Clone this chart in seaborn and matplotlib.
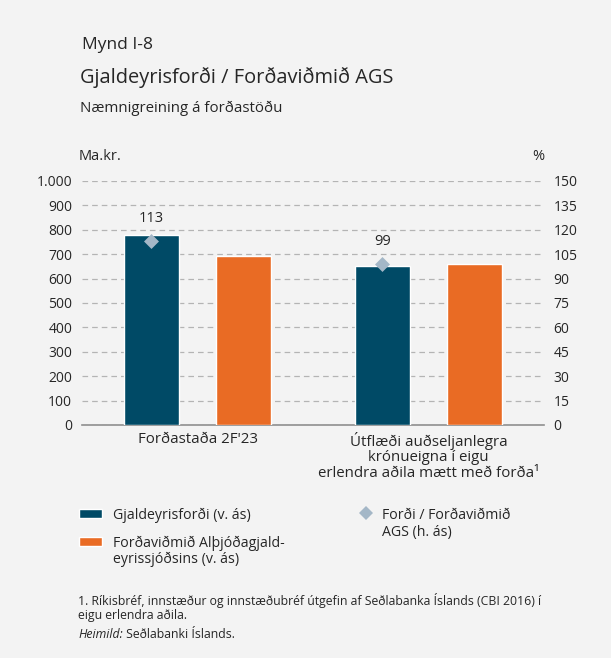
import matplotlib.pyplot as plt
import matplotlib.patches as mpatches
from matplotlib.lines import Line2D
from matplotlib.ticker import FuncFormatter
import pandas as pd
import seaborn as sns

# Gögn
categories = [
    "Forðastaða 2F'23",
    "Útflæði auðseljanlegra\nkrónueigna í eigu\nerlendra aðila mætt með forða¹",
]
series = ["Gjaldeyrisforði (v. ás)", "Forðaviðmið Alþjóðagjaldeyrissjóðsins (v. ás)"]
reserves = [780, 651]
benchmark = [692, 660]
ratio = [113, 99]
left_ticks = list(range(0, 1001, 100))
right_ticks = list(range(0, 151, 15))

DARK = "#004a66"
ORANGE = "#e96b24"
DIAMOND = "#a4b7c7"
BG = "#f3f3f3"
GRID = "#b4b4b4"
TEXT = "#262626"
AXIS = "#8f8f8f"

W, H = 611, 658


def fx(px):
    return px / W


def fy(py):
    return 1 - py / H


df = pd.DataFrame({
    "flokkur": categories * 2,
    "rod": [series[0]] * len(categories) + [series[1]] * len(categories),
    "gildi": reserves + benchmark,
})

sns.set_theme(style="white")
plt.rcParams["font.family"] = ["Open Sans", "DejaVu Sans"]
plt.rcParams["text.color"] = TEXT
plt.rcParams["xtick.color"] = TEXT
plt.rcParams["ytick.color"] = TEXT

fig = plt.figure(figsize=(W / 100, H / 100), dpi=100, facecolor=BG)
ax = fig.add_axes([fx(82), fy(425), fx(544) - fx(82), fy(181) - fy(425)])
ax.set_facecolor(BG)

sns.barplot(data=df, x="flokkur", y="gildi", hue="rod", palette=[DARK, ORANGE],
            width=0.8, gap=0.4, saturation=1, legend=False, ax=ax, zorder=3)

ax.set_xlim(-0.5, len(categories) - 0.5)
ax.set_ylim(0, 1000)
ax.set_yticks(left_ticks)
ax.yaxis.set_major_formatter(FuncFormatter(lambda v, _: f"{v:,.0f}".replace(",", ".")))
ax.set_xlabel("")
ax.set_ylabel("")
ax.yaxis.grid(True, linestyle=(0, (4.5, 3.2)), color=GRID, linewidth=0.9)
ax.set_axisbelow(True)
for s in ["top", "left", "right"]:
    ax.spines[s].set_visible(False)
ax.spines["bottom"].set_color(AXIS)
ax.spines["bottom"].set_linewidth(1.2)
ax.set_xticks([i - 0.5 for i in range(len(categories) + 1)], minor=True)
ax.tick_params(axis="x", which="minor", length=5, color=AXIS, width=1.2)
ax.tick_params(axis="x", which="major", length=0, pad=5, labelsize=10.8)
for lbl in ax.get_xticklabels():
    lbl.set_linespacing(1.05)
ax.tick_params(axis="y", length=0, pad=7, labelsize=10)

ax2 = ax.twinx()
ax2.set_ylim(0, 150)
ax2.set_yticks(right_ticks)
for s in ax2.spines.values():
    s.set_visible(False)
ax2.tick_params(axis="y", length=0, pad=7, labelsize=10)

xs = [p.get_x() + p.get_width() / 2 for p in ax.containers[0]]
ax2.scatter(xs, ratio, marker="D", s=58, color=DIAMOND, zorder=4, linewidths=0)
for x, r in zip(xs, ratio):
    ax2.annotate(f"{r}", (x, r), xytext=(0, 16), textcoords="offset points",
                 ha="center", va="center", fontsize=10.5)

# Titlar
fig.text(fx(82), fy(45), "Mynd I-8", fontsize=12.5, va="center", ha="left")
fig.text(fx(80), fy(78), "Gjaldeyrisforði / Forðaviðmið AGS", fontsize=14.4, va="center", ha="left")
fig.text(fx(80), fy(108), "Næmnigreining á forðastöðu", fontsize=10.8, va="center", ha="left")
fig.text(fx(79), fy(157), "Ma.kr.", fontsize=10.5, va="center", ha="left")
fig.text(fx(544), fy(157), "%", fontsize=10.5, va="center", ha="right")

# Skýringar
fig.add_artist(mpatches.Rectangle((fx(79), fy(518)), fx(102) - fx(79), fy(509) - fy(518),
                                  facecolor=DARK, transform=fig.transFigure))
fig.add_artist(mpatches.Rectangle((fx(79), fy(546)), fx(102) - fx(79), fy(537) - fy(546),
                                  facecolor=ORANGE, transform=fig.transFigure))
fig.add_artist(Line2D([fx(366)], [fy(513)], marker="D", markersize=7.5, color=DIAMOND,
                      linestyle="", markeredgewidth=0, transform=fig.transFigure))
fig.text(fx(113), fy(513), series[0], fontsize=10.2, va="center_baseline", ha="left")
fig.text(fx(113), fy(549), "Forðaviðmið Alþjóðagjald-\neyrissjóðsins (v. ás)", fontsize=10.2,
         va="center_baseline", ha="left", linespacing=1.08)
fig.text(fx(382), fy(521), "Forði / Forðaviðmið\nAGS (h. ás)", fontsize=10.2,
         va="center_baseline", ha="left", linespacing=1.15)

# Neðanmálsgreinar
fig.text(fx(78), fy(605), "1. Ríkisbréf, innstæður og innstæðubréf útgefin af Seðlabanka Íslands (CBI 2016) í\neigu erlendra aðila.",
         fontsize=8.8, va="center_baseline", ha="left", linespacing=1.2)
src = fig.text(fx(78), fy(633), "Heimild:", fontsize=8.8, style="italic", va="center_baseline", ha="left")
ax.annotate(" Seðlabanki Íslands.", xy=(1, 0), xycoords=src, va="bottom", ha="left", fontsize=8.8,
            annotation_clip=False)

fig.savefig("out.png", dpi=100, facecolor=BG)
